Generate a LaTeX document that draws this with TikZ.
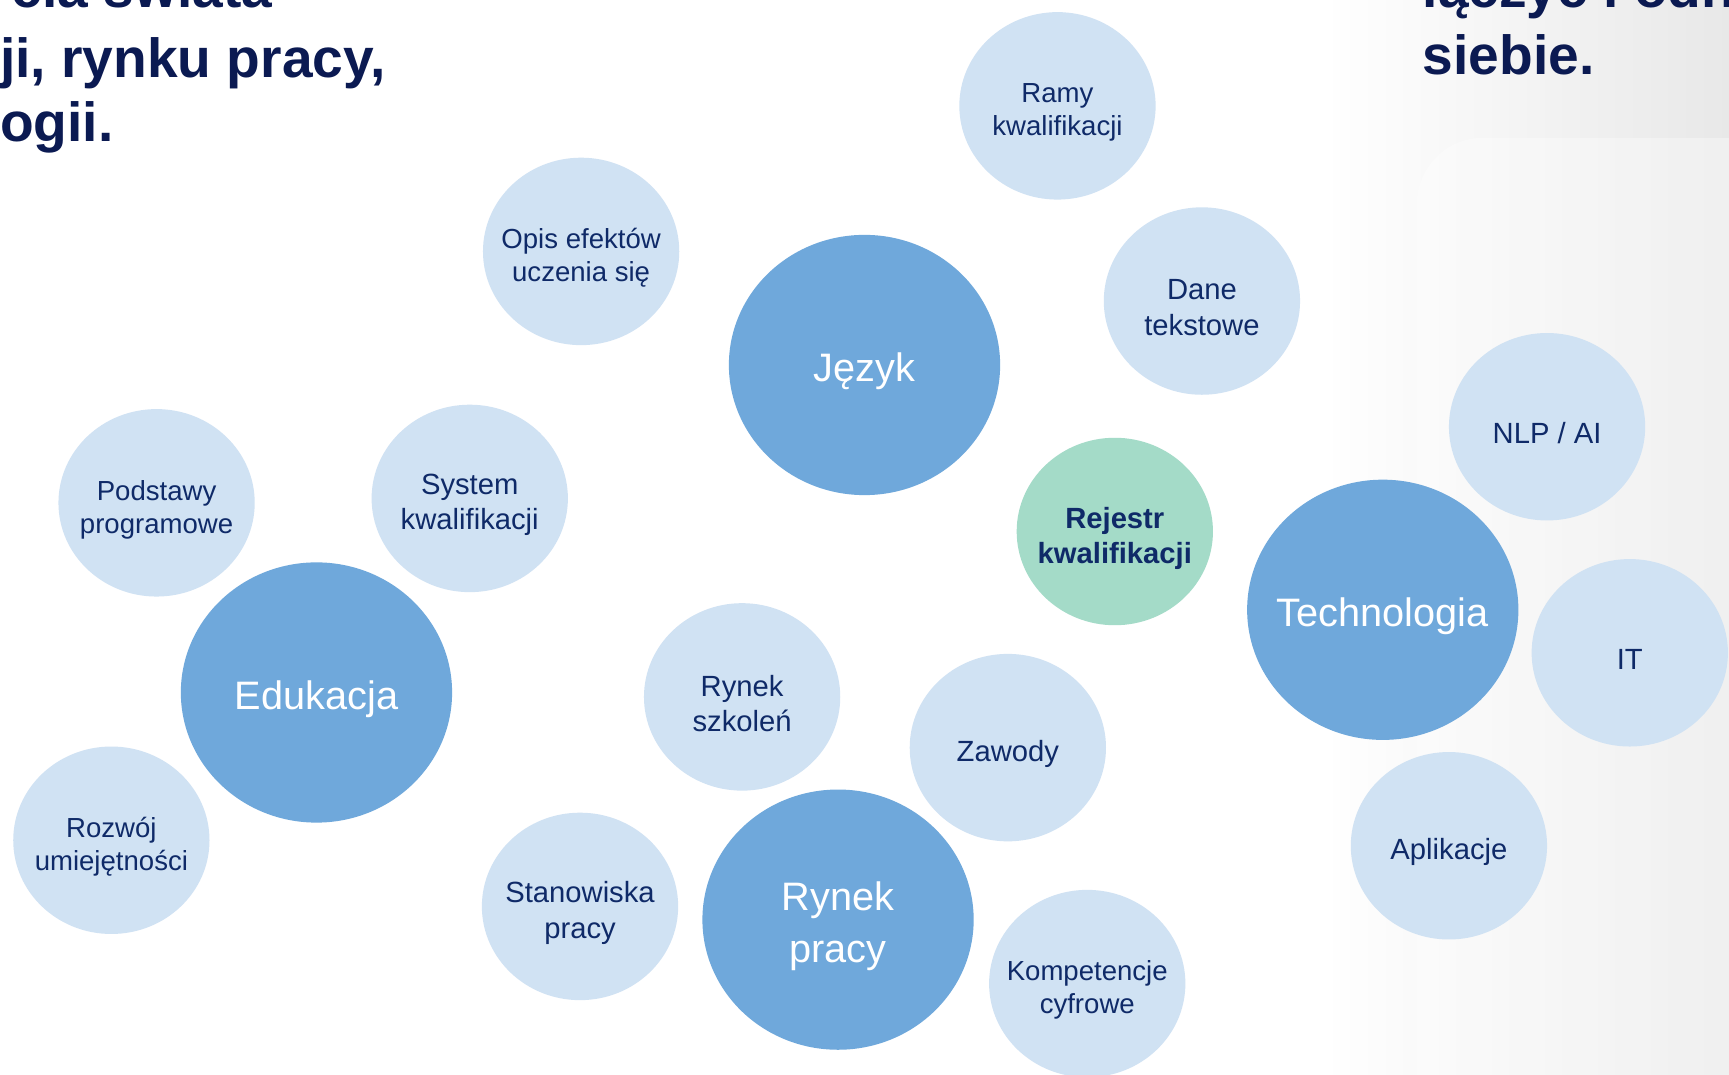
\documentclass[tikz,border=0pt]{standalone}
\usepackage{fontspec}
\setmainfont{Liberation Sans}
\usetikzlibrary{shapes.geometric}
\definecolor{navy}{HTML}{0B1A52}
\definecolor{ink}{HTML}{0F2A68}
\definecolor{bigblue}{HTML}{6FA8DB}
\definecolor{paleblue}{HTML}{D0E2F3}
\definecolor{mint}{HTML}{A4DBC8}
\tikzset{
  bubble/.style={ellipse, inner sep=0pt, minimum width=178pt, minimum height=170pt, fill=paleblue},
  bigbubble/.style={ellipse, inner sep=0pt, minimum width=246pt, minimum height=236pt, fill=bigblue},
  lbl/.style={text=ink, align=center, yshift=-6pt, font=\fontsize{26.5}{32}\selectfont},
  sml/.style={text=ink, align=center, yshift=-6pt, font=\fontsize{25}{30}\selectfont},
  biglbl/.style={text=white, align=center, yshift=-6pt, font=\fontsize{36}{47}\selectfont},
  title/.style={text=navy, font=\bfseries\fontsize{50}{59}\selectfont, inner sep=0pt}
}
\begin{document}
\begin{tikzpicture}[x=1pt,y=-1pt]
    \useasboundingbox (0,0) rectangle (1568,974);
    \clip (0,0) rectangle (1568,974);
    \fill[white] (0,0) rectangle (1568,974);
    \shade[left color=white, right color=black!9] (1200,0) rectangle (1568,974);
    \fill[white, opacity=.35, rounded corners=60pt] (1285,125) rectangle (1640,1030);

    \node[title, anchor=base east] (head1) at (247,7) {cia świata};
    \node[title, anchor=base west] (head2) at (0,70) {ji, rynku pracy,};
    \node[title, anchor=base west] (head3) at (0,128) {ogii.};
    \node[title, anchor=base west] (head4) at (1290,7) {łączyć i odn};
    \node[title, anchor=base west] (head5) at (1290,68) {siebie.};

    \foreach \nm/\px/\py/\txt in {ramy/959/96/{Ramy\\kwalifikacji},
        opis/527/228/{Opis efektów\\uczenia się}, podstawy/142/456/{Podstawy\\programowe},
        rozwoj/101/762/{Rozwój\\umiejętności}, kompetencje/986/892/{Kompetencje\\cyfrowe}}
    {
        \node[bubble] (\nm) at (\px,\py) {};
        \node[sml] (\nm-txt) at (\nm) {\txt};
    }
    \foreach \nm/\px/\py/\txt in {dane/1090/273/{Dane\\tekstowe}, nlp/1403/387/{NLP / AI},
        system/426/452/{System\\kwalifikacji}, it/1478/592/{IT},
        szkolenia/673/632/{Rynek\\szkoleń}, zawody/914/678/{Zawody},
        aplikacje/1314/767/{Aplikacje}, stanowiska/526/822/{Stanowiska\\pracy}}
    {
        \node[bubble] (\nm) at (\px,\py) {};
        \node[lbl] (\nm-txt) at (\nm) {\txt};
    }

    \node[bubble, fill=mint] (rejestr) at (1011,482) {};
    \node[lbl, font=\bfseries\fontsize{26.5}{32}\selectfont] (rejestr-txt) at (rejestr) {Rejestr\\kwalifikacji};

    \foreach \nm/\px/\py/\txt in {jezyk/784/331/{Język}, technologia/1254/553/{Technologia},
        edukacja/287/628/{Edukacja}, rynek/760/834/{Rynek\\pracy}}
    {
        \node[bigbubble] (\nm) at (\px,\py) {};
        \node[biglbl] (\nm-txt) at (\nm) {\txt};
    }
\end{tikzpicture}
\end{document}
